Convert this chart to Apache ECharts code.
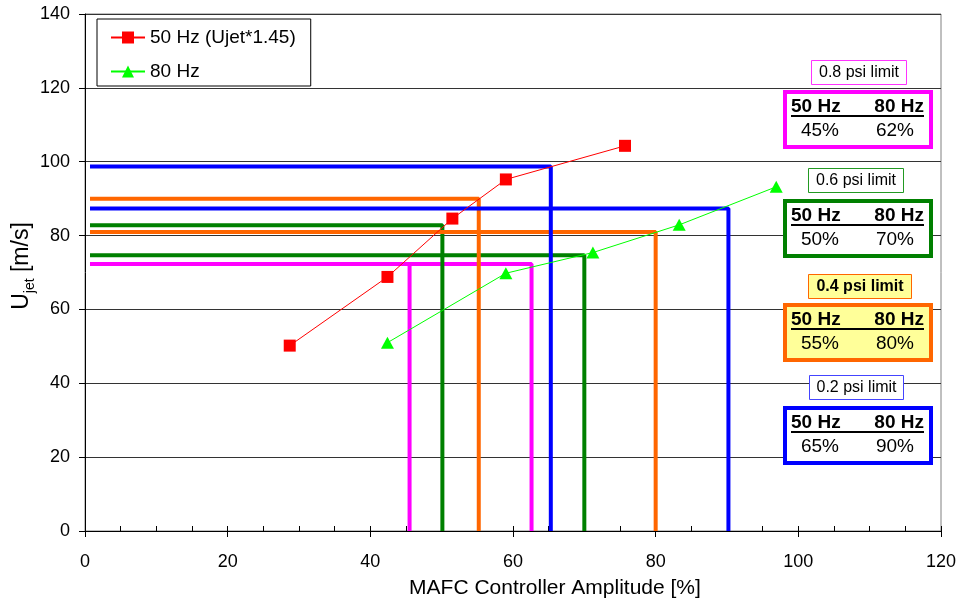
<!DOCTYPE html>
<html>
<head>
<meta charset="utf-8">
<script src="https://cdn.jsdelivr.net/npm/echarts@6/dist/echarts.min.js"></script>
<style>
html,body{margin:0;padding:0;background:#fff;}
#chart{width:961px;height:607px;}
</style>
</head>
<body>
<div id="chart"></div>
<script>
// ---- data ----
const hz50X = [28.7, 42.4, 51.5, 59.0, 75.7];
const hz50Y = [50.2, 68.8, 84.6, 95.2, 104.3];
const hz80X = [42.4, 59.0, 71.2, 83.3, 96.9];
const hz80Y = [51.0, 69.8, 75.4, 82.9, 93.2];

// limit step lines
const limitNames = ['0.8 psi limit', '0.6 psi limit', '0.4 psi limit', '0.2 psi limit'];
const lim50Level = [72.3, 82.8, 90.0, 98.7];
const lim50Amp   = [45.5, 50.1, 55.2, 65.3];
const lim80Level = [72.3, 74.7, 81.0, 87.3];
const lim80Amp   = [62.6, 70.0, 80.0, 90.2];
const lineStartX = 0.7;
const pct50 = ['45%', '50%', '55%', '65%'];
const pct80 = ['62%', '70%', '80%', '90%'];
const limitColors = ['#ff00ff', '#008000', '#ff6600', '#0000ff'];
const labelBorderColors = ['#ff33ff', '#229922', '#ff6600', '#4444ff'];

const FONT = '"Liberation Sans", Arial, sans-serif';

const series = [];
for (let i = 0; i < limitNames.length; i++) {
  [[lim50Level[i], lim50Amp[i]], [lim80Level[i], lim80Amp[i]]].forEach(([lv, amp], k) => {
    series.push({
      name: limitNames[i] + (k ? ' 80' : ' 50'),
      type: 'line',
      data: [[lineStartX, lv], [amp, lv], [amp, 0]],
      symbol: 'none',
      silent: true,
      lineStyle: { color: limitColors[i], width: 4 },
      z: 2
    });
  });
}
series.push({
  name: '50 Hz (Ujet*1.45)',
  type: 'line',
  data: hz50X.map((x, i) => [x, hz50Y[i]]),
  symbol: 'rect',
  symbolSize: 12,
  itemStyle: { color: '#ff0000' },
  lineStyle: { color: '#ff0000', width: 1 },
  z: 5
});
series.push({
  name: '80 Hz',
  type: 'line',
  data: hz80X.map((x, i) => [x, hz80Y[i]]),
  symbol: 'triangle',
  symbolSize: [13, 12],
  itemStyle: { color: '#00ff00' },
  lineStyle: { color: '#00ff00', width: 1 },
  z: 5
});

// annotation boxes
const boxTops = [90, 199, 303, 406];
const labelTops = [60, 168, 274, 375];
const labelBoxes = [[811, 95], [808, 95], [808, 103], [809, 94]];
const graphics = [];
for (let i = 0; i < 4; i++) {
  const T = boxTops[i];
  const fill = i === 2 ? '#ffff99' : '#ffffff';
  const [lx, lw] = labelBoxes[i];
  graphics.push({
    type: 'rect', shape: { x: lx + 0.5, y: labelTops[i] + 0.5, width: lw, height: 24 },
    style: { fill: fill, stroke: labelBorderColors[i], lineWidth: 1 }, z: 100
  });
  graphics.push({
    type: 'text', x: lx + lw / 2 + 0.5, y: labelTops[i] + 13,
    style: { text: limitNames[i], fill: '#000', font: (i === 2 ? 'bold ' : '') + '16px ' + FONT, textAlign: 'center', textVerticalAlign: 'middle' }, z: 101
  });
  graphics.push({
    type: 'rect', shape: { x: 785, y: T + 2, width: 146, height: 55 },
    style: { fill: fill, stroke: limitColors[i], lineWidth: 4 }, z: 100
  });
  graphics.push({
    type: 'text', x: 791, y: T + 17,
    style: { text: '50 Hz', fill: '#000', font: 'bold 19px ' + FONT, textAlign: 'left', textVerticalAlign: 'middle' }, z: 101
  });
  graphics.push({
    type: 'text', x: 924, y: T + 17,
    style: { text: '80 Hz', fill: '#000', font: 'bold 19px ' + FONT, textAlign: 'right', textVerticalAlign: 'middle' }, z: 101
  });
  graphics.push({
    type: 'line', shape: { x1: 791, y1: T + 26, x2: 924, y2: T + 26 },
    style: { stroke: '#000', lineWidth: 2 }, z: 101
  });
  graphics.push({
    type: 'text', x: 820, y: T + 41,
    style: { text: pct50[i], fill: '#000', font: '19px ' + FONT, textAlign: 'center', textVerticalAlign: 'middle' }, z: 101
  });
  graphics.push({
    type: 'text', x: 895, y: T + 41,
    style: { text: pct80[i], fill: '#000', font: '19px ' + FONT, textAlign: 'center', textVerticalAlign: 'middle' }, z: 101
  });
}
graphics.push({
  type: 'text', x: 555, y: 588,
  style: { text: 'MAFC Controller Amplitude [%]', fill: '#000', font: '21px ' + FONT, textAlign: 'center', textVerticalAlign: 'middle' }, z: 101
});
graphics.push({
  type: 'text', x: 22, y: 266, rotation: Math.PI / 2,
  style: {
    text: '{a|U}{b|jet}{a| [m/s]}',
    textAlign: 'center', textVerticalAlign: 'middle',
    rich: {
      a: { fontSize: 23, fontFamily: FONT, fill: '#000', lineHeight: 30, verticalAlign: 'middle' },
      b: { fontSize: 14, fontFamily: FONT, fill: '#000', lineHeight: 14, verticalAlign: 'bottom' }
    }
  }, z: 101
});

const chart = echarts.init(document.getElementById('chart'), null, { renderer: 'canvas' });
chart.setOption({
  backgroundColor: '#ffffff',
  animation: false,
  textStyle: { fontFamily: FONT },
  grid: { left: 85, right: 20, top: 14, bottom: 76, show: true, borderColor: '#808080', borderWidth: 1, backgroundColor: 'transparent' },
  legend: {
    data: ['50 Hz (Ujet*1.45)', '80 Hz'],
    orient: 'vertical',
    left: 97, top: 19,
    padding: [9, 15, 5, 13],
    itemGap: 15,
    itemWidth: 34, itemHeight: 15,
    backgroundColor: '#ffffff',
    borderColor: '#000', borderWidth: 1,
    textStyle: { fontSize: 19, color: '#000', fontFamily: FONT },
    z: 50
  },
  xAxis: [{
    type: 'value', min: 0, max: 120, interval: 20,
    axisLine: { show: true, lineStyle: { color: '#000', width: 1 } },
    axisTick: { show: true, inside: false, length: 6, lineStyle: { color: '#000' } },
    axisLabel: { fontSize: 18, color: '#000', margin: 22, fontFamily: FONT },
    splitLine: { show: false }
  }, {
    type: 'value', min: 0, max: 120, interval: 5, position: 'bottom',
    axisLine: { show: false },
    axisTick: { show: true, inside: true, length: 5, lineStyle: { color: '#000' } },
    axisLabel: { show: false },
    splitLine: { show: false }
  }],
  yAxis: {
    type: 'value', min: 0, max: 140, interval: 20,
    axisLine: { show: true, lineStyle: { color: '#000', width: 1 } },
    axisTick: { show: true, inside: false, length: 6, lineStyle: { color: '#000' } },
    axisLabel: { fontSize: 18, color: '#000', margin: 15, fontFamily: FONT },
    splitLine: { show: true, lineStyle: { color: '#333', width: 1 } }
  },
  graphic: graphics,
  series: series
});
</script>
</body>
</html>
